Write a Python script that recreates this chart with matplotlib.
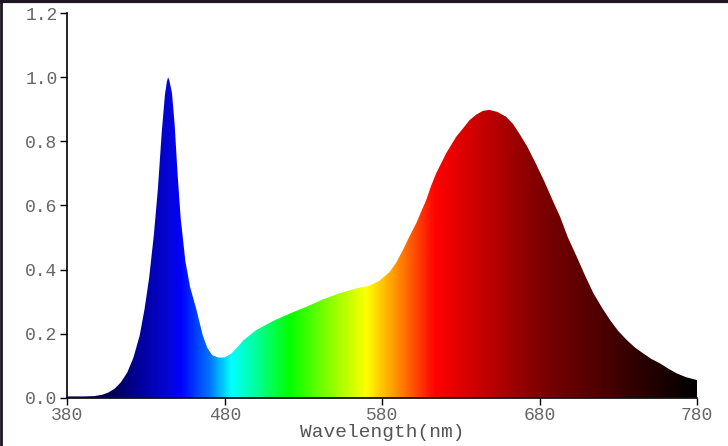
import numpy as np
import matplotlib

matplotlib.use("Agg")

import matplotlib.pyplot as plt
from matplotlib.colors import LinearSegmentedColormap
from matplotlib.lines import Line2D

# spectrum (wavelength nm, relative intensity)
wavelength = [380, 390, 397, 402, 406, 410, 414, 418, 422, 426, 429, 432,
              435, 437.5, 440, 442, 443.2, 444, 444.8, 446.5, 448.2, 450, 452,
              455, 458, 462, 466, 469, 472, 476, 480, 484, 488, 492, 500,
              511, 521.5, 532, 542.5, 553, 563.6, 572, 578, 584.7, 589,
              593.2, 597, 601.6, 605, 608, 611, 614.3, 620.7, 627, 631,
              635.5, 640, 644, 648, 653, 658.6, 663, 667, 672, 677.6, 683,
              688.2, 693, 698, 703.6, 709, 714.2, 719.5, 724.8, 730, 735.4,
              740.5, 745.9, 751, 756.5, 762, 767.1, 773, 780]
intensity = [0.004, 0.004, 0.005, 0.009, 0.016, 0.028, 0.048, 0.078, 0.125,
             0.195, 0.275, 0.375, 0.51, 0.65, 0.83, 0.945, 0.985, 1.0, 0.99,
             0.95, 0.85, 0.70, 0.56, 0.425, 0.345, 0.275, 0.195, 0.155,
             0.133, 0.125, 0.126, 0.137, 0.157, 0.180, 0.211, 0.240, 0.263,
             0.284, 0.307, 0.326, 0.341, 0.350, 0.364, 0.392, 0.422, 0.461,
             0.500, 0.544, 0.583, 0.617, 0.660, 0.700, 0.763, 0.814, 0.838,
             0.866, 0.884, 0.895, 0.898, 0.892, 0.877, 0.855, 0.825, 0.785,
             0.731, 0.675, 0.617, 0.565, 0.500, 0.440, 0.380, 0.326, 0.282,
             0.242, 0.208, 0.180, 0.157, 0.138, 0.121, 0.107, 0.090, 0.076,
             0.064, 0.055]

# colour stops along the wavelength axis
color_nm = [380, 410, 425, 445, 452, 470, 484, 500, 521, 545, 570, 590, 614, 680, 780]
color_rgb = [(0.0, 0.0, 0.25), (0.0, 0.0, 0.35), (0.0, 0.0, 0.6), (0.02, 0.02, 0.85),
             (0.0, 0.0, 1.0), (0.0, 0.45, 1.0), (0.0, 1.0, 1.0), (0.0, 1.0, 0.6),
             (0.0, 1.0, 0.0), (0.5, 1.0, 0.0), (1.0, 1.0, 0.0), (1.0, 0.55, 0.0),
             (1.0, 0.0, 0.0), (0.5, 0.0, 0.0), (0.0, 0.0, 0.0)]

x_ticks = [380, 480, 580, 680, 780]
y_ticks = [0.0, 0.2, 0.4, 0.6, 0.8, 1.0, 1.2]

fig = plt.figure(figsize=(7.28, 4.46), dpi=100)
ax = fig.add_axes([0.0925, 0.1083, 0.8649, 0.8623])

stops = [(n - 380) / 400 for n in color_nm]
cmap = LinearSegmentedColormap.from_list("spec", list(zip(stops, color_rgb)), N=512)

# fill polygon used as clip path for the gradient
fill = ax.fill_between(wavelength, intensity, 0, color="none", lw=0)
grad = np.linspace(0, 1, 800).reshape(1, -1)
img = ax.imshow(grad, cmap=cmap, extent=[380, 780, 0, 1.2], aspect="auto",
                origin="lower", interpolation="bilinear")
img.set_clip_path(fill.get_paths()[0], transform=ax.transData)

ax.set_xlim(380, 780)
ax.set_ylim(0, 1.2)
ax.set_xticks(x_ticks)
ax.set_yticks(y_ticks)
ax.set_yticklabels([f"{v:.1f}" for v in y_ticks])

mono = "Liberation Mono"
for lab in ax.get_xticklabels() + ax.get_yticklabels():
    lab.set_family(mono)
    lab.set_fontsize(13)
    lab.set_color("#666666")
ax.tick_params(length=5, width=1, color="black", pad=2)

ax.set_xlabel("Wavelength(nm)", family=mono, fontsize=14, color="#555555", labelpad=0)

for side in ("top", "right"):
    ax.spines[side].set_visible(False)
for side in ("left", "bottom"):
    ax.spines[side].set_linewidth(1.2)

# dark frame lines at top and left of the image
fig.add_artist(Line2D([0, 1], [0.998, 0.998], transform=fig.transFigure, color="#1e1620", lw=3))
fig.add_artist(Line2D([0.001, 0.001], [0, 1], transform=fig.transFigure, color="#1e1620", lw=2))

fig.savefig("out.png", dpi=100)
